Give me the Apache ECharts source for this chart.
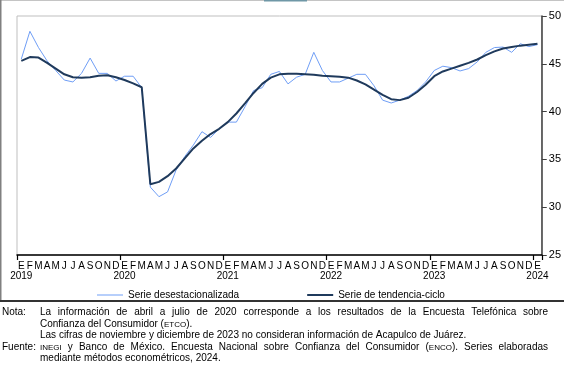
<!DOCTYPE html>
<html>
<head>
<meta charset="utf-8">
<script src="https://cdn.jsdelivr.net/npm/echarts@6/dist/echarts.min.js"></script>
<style>
html,body{margin:0;padding:0;background:#fff;}
#chart{width:564px;height:370px;}
</style>
</head>
<body>
<div id="chart"></div>
<script>
// ---- Data ----
const years = [2019, 2020, 2021, 2022, 2023, 2024];
const monthLetters = ['E','F','M','A','M','J','J','A','S','O','N','D'];
const yTicks = [25, 30, 35, 40, 45, 50];

const serieDesestacionalizada = [
  45.5, 48.4, 46.7, 45.3, 44.3, 43.3, 43.1, 44.0, 45.6, 44.0, 44.0, 43.2,
  43.7, 43.7, 42.5, 32.1, 31.1, 31.6, 33.9, 35.3, 36.5, 37.9, 37.3, 38.2,
  38.9, 38.9, 40.5, 42.2, 42.5, 43.9, 44.2, 42.9, 43.6, 43.9, 46.2, 44.3,
  43.1, 43.1, 43.5, 43.9, 43.9, 42.7, 41.2, 40.9, 41.2, 41.6, 42.2, 43.1,
  44.3, 44.75, 44.6, 44.25, 44.5, 45.2, 46.2, 46.7, 46.75, 46.2, 47.1, 46.8,
  47.0
];
const serieTendenciaCiclo = [
  45.3, 45.7, 45.65, 45.1, 44.5, 43.9, 43.6, 43.55, 43.6, 43.75, 43.8, 43.6,
  43.3, 42.95, 42.55, 32.4, 32.65, 33.25, 34.05, 35.1, 36.15, 36.95, 37.65, 38.2,
  38.9, 39.8, 40.85, 41.95, 42.9, 43.55, 43.9, 43.95, 43.95, 43.9, 43.85, 43.75,
  43.7, 43.65, 43.55, 43.25, 42.85, 42.3, 41.75, 41.3, 41.2, 41.45, 42.05, 42.8,
  43.7, 44.2, 44.5, 44.8, 45.1, 45.45, 45.9, 46.3, 46.6, 46.75, 46.9, 47.0,
  47.1
];
const seriesNames = ['Serie desestacionalizada', 'Serie de tendencia-ciclo'];
const seriesColors = ['#6f9ef6', '#1f3a5c'];

// categories: month keys Jan 2019 .. Jan 2024
const categories = [];
for (let y = 0; y < years.length; y++) {
  for (let m = 0; m < 12; m++) {
    if (categories.length < serieTendenciaCiclo.length) categories.push(years[y] + '-' + (m + 1));
  }
}

// ---- Notes text ----
const FONT = '"Liberation Sans", Arial, sans-serif';
const notes = [
  {label: 'Nota:', y: 312.5, justify: true,
   text: 'La información de abril a julio de 2020 corresponde a los resultados de la Encuesta Telefónica sobre'},
  {y: 324, text: 'Confianza del Consumidor ([ETCO]).'},
  {y: 335.5, text: 'Las cifras de noviembre y diciembre de 2023 no consideran información de Acapulco de Juárez.'},
  {label: 'Fuente:', y: 347, justify: true,
   text: '[INEGI] y Banco de México. Encuesta Nacional sobre Confianza del Consumidor ([ENCO]). Series elaboradas'},
  {y: 358, text: 'mediante métodos econométricos, 2024.'}
];

const ctx = document.createElement('canvas').getContext('2d');
function measure(t, size) { ctx.font = size + 'px ' + FONT; return ctx.measureText(t).width; }
function segs(word) {
  return word.split(/(\[[^\]]+\])/).filter(s => s.length).map(s => {
    const small = s[0] === '[';
    const t = small ? s.slice(1, -1) : s;
    const size = small ? 8 : 10;
    return {t, small, size, w: measure(t, size)};
  });
}
const graphics = [];
function addText(t, x, y, size, small) {
  graphics.push({type: 'text', x: x, y: y + (small ? 0.6 : 0), silent: true,
    style: {text: t, font: size + 'px ' + FONT, fill: '#000', textAlign: 'left', textVerticalAlign: 'middle'}});
}
const X0 = 40, X1 = 548;
notes.forEach(n => {
  if (n.label) addText(n.label, 2, n.y, 10, false);
  const words = n.text.split(' ').map(segs);
  const widths = words.map(w => w.reduce((a, s) => a + s.w, 0));
  const total = widths.reduce((a, b) => a + b, 0);
  const gap = n.justify ? (X1 - X0 - total) / (words.length - 1) : measure(' ', 10);
  let x = X0;
  words.forEach((w, i) => {
    let sx = x;
    w.forEach(s => { addText(s.t, sx, n.y, s.size, s.small); sx += s.w; });
    x += widths[i] + gap;
  });
});
// frame lines
graphics.push({type: 'line', silent: true, shape: {x1: 0, y1: 0.5, x2: 564, y2: 0.5}, style: {stroke: '#c4c4c4', lineWidth: 1}});
graphics.push({type: 'rect', silent: true, shape: {x: 264, y: 0, width: 43, height: 1.5}, style: {fill: '#6f97a6'}});
graphics.push({type: 'line', silent: true, shape: {x1: 0.75, y1: 0, x2: 0.75, y2: 301}, style: {stroke: '#808080', lineWidth: 1.5}});
graphics.push({type: 'line', silent: true, shape: {x1: 0, y1: 301, x2: 564, y2: 301}, style: {stroke: '#333', lineWidth: 2}});

const chart = echarts.init(document.getElementById('chart'), null, {renderer: 'canvas'});
chart.setOption({
  animation: false,
  backgroundColor: '#fff',
  textStyle: {fontFamily: FONT},
  grid: {left: 17, right: 20, top: 16, bottom: 115, show: true, borderColor: '#bfbfbf', borderWidth: 1},
  legend: {
    data: [
      {name: seriesNames[0], icon: 'path://M0 0H26V1H0Z', itemStyle: {color: seriesColors[0]}},
      {name: seriesNames[1], icon: 'path://M0 0H26V2H0Z', itemStyle: {color: seriesColors[1]}}
    ],
    left: 92, top: 285, itemWidth: 26, itemHeight: 10, itemGap: 68,
    textStyle: {fontSize: 10, color: '#000', fontFamily: FONT}
  },
  xAxis: {
    type: 'category', data: categories, boundaryGap: true,
    axisLine: {lineStyle: {color: '#000', width: 1.5}},
    axisTick: {show: true, interval: 11, length: 5, lineStyle: {color: '#000', width: 1.2}},
    axisLabel: {
      interval: 0, fontSize: 10, color: '#000', lineHeight: 10, margin: 6, fontFamily: FONT,
      formatter: (v, i) => monthLetters[i % 12] + (i % 12 === 0 ? '\n' + years[i / 12] : '')
    },
    splitLine: {show: false}
  },
  yAxis: {
    type: 'value', position: 'right', min: yTicks[0], max: yTicks[yTicks.length - 1], interval: 5,
    axisLine: {show: true, lineStyle: {color: '#404040', width: 1.5}},
    axisTick: {show: true, length: 5, lineStyle: {color: '#404040'}},
    axisLabel: {fontSize: 11, color: '#000', margin: 7, fontFamily: FONT},
    splitLine: {show: false}
  },
  series: [
    {name: seriesNames[0], type: 'line', data: serieDesestacionalizada, symbol: 'none',
     lineStyle: {color: seriesColors[0], width: 1}, itemStyle: {color: seriesColors[0]}, z: 2},
    {name: seriesNames[1], type: 'line', data: serieTendenciaCiclo, symbol: 'none',
     lineStyle: {color: seriesColors[1], width: 2}, itemStyle: {color: seriesColors[1]}, z: 3}
  ],
  graphic: graphics
});
</script>
</body>
</html>
